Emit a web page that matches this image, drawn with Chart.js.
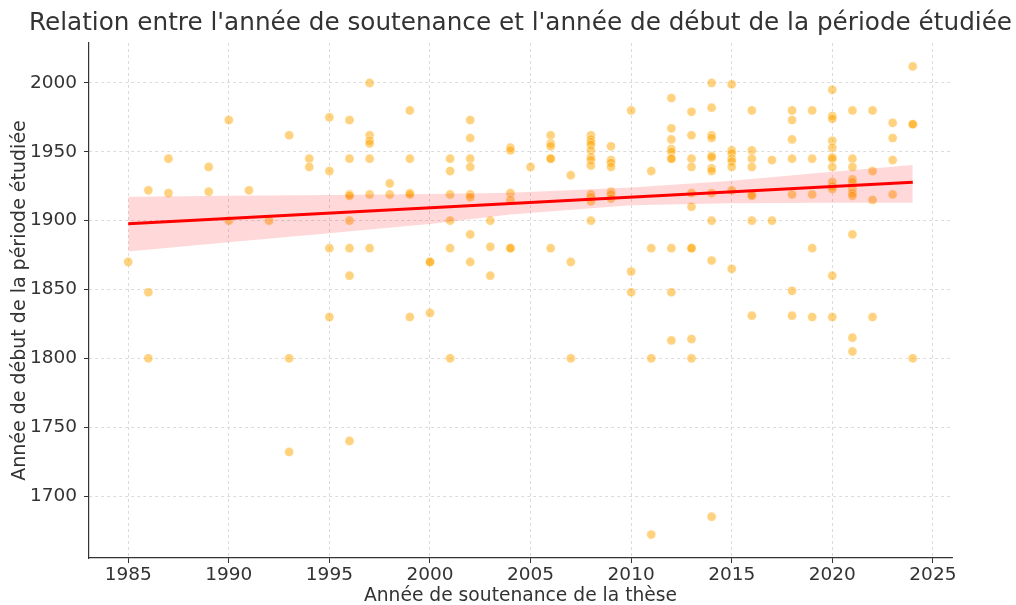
<!DOCTYPE html>
<html lang="fr">
<head>
<meta charset="utf-8">
<title>Soutenance et période étudiée</title>
<script src="https://cdn.jsdelivr.net/npm/chart.js@4.4.1/dist/chart.umd.min.js"></script>
<style>
  html, body { margin: 0; padding: 0; background: #fff; }
  #wrap { width: 1016px; height: 605px; }
</style>
</head>
<body>
<div id="wrap"><canvas id="chart" width="1016" height="605"></canvas></div>
<script>
/* ---------- Data ---------- */
const soutenance = [
    1985,
    1986, 1986, 1986,
    1987, 1987,
    1989, 1989,
    1990, 1990,
    1991,
    1992,
    1993, 1993, 1993,
    1994, 1994,
    1995, 1995, 1995, 1995,
    1996, 1996, 1996, 1996, 1996, 1996, 1996, 1996,
    1997, 1997, 1997, 1997, 1997, 1997, 1997,
    1998, 1998,
    1999, 1999, 1999, 1999, 1999,
    2000, 2000, 2000,
    2001, 2001, 2001, 2001, 2001, 2001,
    2002, 2002, 2002, 2002, 2002, 2002, 2002, 2002,
    2003, 2003, 2003,
    2004, 2004, 2004, 2004, 2004, 2004,
    2005,
    2006, 2006, 2006, 2006, 2006, 2006,
    2007, 2007, 2007,
    2008, 2008, 2008, 2008, 2008, 2008, 2008, 2008, 2008, 2008, 2008, 2008,
    2009, 2009, 2009, 2009, 2009, 2009, 2009,
    2010, 2010, 2010,
    2011, 2011, 2011, 2011,
    2012, 2012, 2012, 2012, 2012, 2012, 2012, 2012, 2012, 2012,
    2013, 2013, 2013, 2013, 2013, 2013, 2013, 2013, 2013, 2013,
    2014, 2014, 2014, 2014, 2014, 2014, 2014, 2014, 2014, 2014, 2014, 2014,
    2015, 2015, 2015, 2015, 2015, 2015, 2015, 2015,
    2016, 2016, 2016, 2016, 2016, 2016, 2016, 2016,
    2017, 2017,
    2018, 2018, 2018, 2018, 2018, 2018, 2018,
    2019, 2019, 2019, 2019, 2019,
    2020, 2020, 2020, 2020, 2020, 2020, 2020, 2020, 2020, 2020, 2020, 2020, 2020,
    2021, 2021, 2021, 2021, 2021, 2021, 2021, 2021, 2021, 2021, 2021,
    2022, 2022, 2022, 2022,
    2023, 2023, 2023, 2023,
    2024, 2024, 2024, 2024
];
const debutPeriode = [
    1870,
    1922, 1848, 1800,
    1945, 1920,
    1939, 1921,
    1973, 1900,
    1922,
    1900,
    1962, 1800, 1732,
    1945, 1939,
    1975, 1936, 1880, 1830,
    1973, 1945, 1919, 1918, 1900, 1880, 1860, 1740,
    2000, 1962, 1958, 1956, 1945, 1919, 1880,
    1927, 1919,
    1980, 1945, 1920, 1919, 1830,
    1870, 1870, 1833,
    1945, 1936, 1919, 1900, 1880, 1800,
    1973, 1960, 1945, 1939, 1919, 1917, 1890, 1870,
    1900, 1881, 1860,
    1953, 1951, 1920, 1915, 1880, 1880,
    1939,
    1962, 1956, 1954, 1945, 1945, 1880,
    1933, 1870, 1800,
    1962, 1959, 1957, 1955, 1951, 1946, 1944, 1940, 1919, 1917, 1914, 1900,
    1954, 1944, 1942, 1939, 1921, 1919, 1916,
    1980, 1863, 1848,
    1936, 1880, 1800, 1672,
    1989, 1967, 1959, 1952, 1950, 1945, 1945, 1880, 1848, 1813,
    1979, 1962, 1945, 1939, 1920, 1910, 1880, 1880, 1814, 1800,
    2000, 1982, 1962, 1960, 1947, 1946, 1938, 1936, 1920, 1900, 1871, 1685,
    1999, 1951, 1949, 1945, 1943, 1939, 1922, 1865,
    1980, 1951, 1945, 1939, 1919, 1918, 1900, 1831,
    1944, 1900,
    1980, 1973, 1959, 1945, 1919, 1849, 1831,
    1980, 1945, 1919, 1880, 1830,
    1995, 1976, 1974, 1958, 1953, 1946, 1945, 1939, 1928, 1925, 1923, 1860, 1830,
    1980, 1945, 1939, 1930, 1928, 1923, 1920, 1918, 1890, 1815, 1805,
    1980, 1936, 1915, 1830,
    1971, 1960, 1944, 1919,
    2012, 1970, 1970, 1800
];

// regression line and its confidence band
const regX = [1985, 2024];
const regY = [1897.8, 1927.8];
const bandX = [1985, 1990, 1995, 2000, 2004, 2010, 2015, 2020, 2024];
const bandLow = [1877.5, 1884.3, 1890.9, 1897.6, 1904.5, 1911.1, 1912.6, 1913.0, 1913.0];
const bandHigh = [1917.4, 1918.1, 1918.6, 1919.3, 1920.2, 1924.1, 1929.0, 1935.5, 1940.4];

const xTicks = [1985, 1990, 1995, 2000, 2005, 2010, 2015, 2020, 2025];
const yTicks = [1700, 1750, 1800, 1850, 1900, 1950, 2000];

const chartTitle = "Relation entre l'année de soutenance et l'année de début de la période étudiée";

/* ---------- Chart ---------- */
function pairs(xs, ys) {
    return xs.map(function (x, i) { return { x: x, y: ys[i] }; });
}
function plainYear(v) { return String(v); }

const font = "'DejaVu Sans', sans-serif";
const ink = "#333333";
const gridStyle = {
    color: "#d2d2d2",
    lineWidth: 0.8,
    drawTicks: true,
    tickLength: 5,
    tickColor: ink,
    tickWidth: 1
};
const borderStyle = { display: true, color: ink, width: 1.2, dash: [3, 3] };

// title centred over the plot area (the built-in one centres over the padded box)
const plotTitle = {
    id: "plotTitle",
    afterDraw: function (chart) {
        const ctx = chart.ctx, area = chart.chartArea;
        ctx.save();
        ctx.fillStyle = ink;
        ctx.font = "24.7px " + font;
        ctx.textAlign = "center";
        ctx.textBaseline = "middle";
        ctx.fillText(chartTitle, (area.left + area.right) / 2, 24);
        ctx.restore();
    }
};

new Chart(document.getElementById("chart").getContext("2d"), {
    type: "scatter",
    data: {
        datasets: [
            {
                label: "Thèses",
                data: pairs(soutenance, debutPeriode),
                backgroundColor: "rgba(255,165,0,0.5)",
                borderColor: "rgba(255,255,255,0.6)",
                borderWidth: 0.8,
                pointRadius: 4.6,
                order: 4
            },
            {
                label: "IC bas",
                data: pairs(bandX, bandLow),
                showLine: true,
                borderWidth: 0,
                pointRadius: 0,
                fill: false,
                order: 3
            },
            {
                label: "IC haut",
                data: pairs(bandX, bandHigh),
                showLine: true,
                borderWidth: 0,
                pointRadius: 0,
                backgroundColor: "rgba(255,0,0,0.15)",
                fill: "-1",
                order: 2
            },
            {
                label: "Régression",
                data: pairs(regX, regY),
                showLine: true,
                borderColor: "#ff0000",
                borderWidth: 3,
                pointRadius: 0,
                order: 1
            }
        ]
    },
    plugins: [plotTitle],
    options: {
        responsive: false,
        animation: false,
        devicePixelRatio: 1,
        layout: { padding: { left: 0, right: 64, top: 43, bottom: 0 } },
        plugins: {
            legend: { display: false },
            tooltip: { enabled: false },
            title: { display: false }
        },
        scales: {
            x: {
                type: "linear",
                min: 1983.05,
                max: 2025.95,
                afterBuildTicks: function (s) { s.ticks = xTicks.map(function (v) { return { value: v }; }); },
                afterFit: function (s) { s.height = 47; },
                grid: gridStyle,
                border: borderStyle,
                ticks: { color: ink, padding: 1, callback: plainYear, font: { family: font, size: 18.5 } },
                title: {
                    display: true,
                    text: "Année de soutenance de la thèse",
                    color: ink,
                    font: { family: font, size: 18.7, lineHeight: 1 },
                    padding: { top: 0, bottom: 0 }
                }
            },
            y: {
                type: "linear",
                min: 1655,
                max: 2029,
                afterBuildTicks: function (s) { s.ticks = yTicks.map(function (v) { return { value: v }; }); },
                afterFit: function (s) { s.width = 89; },
                grid: gridStyle,
                border: borderStyle,
                ticks: { color: ink, padding: 7, callback: plainYear, font: { family: font, size: 18.5 } },
                title: {
                    display: true,
                    text: "Année de début de la période étudiée",
                    color: ink,
                    font: { family: font, size: 19, lineHeight: 1.2 },
                    padding: { top: 9, bottom: 0 }
                }
            }
        }
    }
});
</script>
</body>
</html>
